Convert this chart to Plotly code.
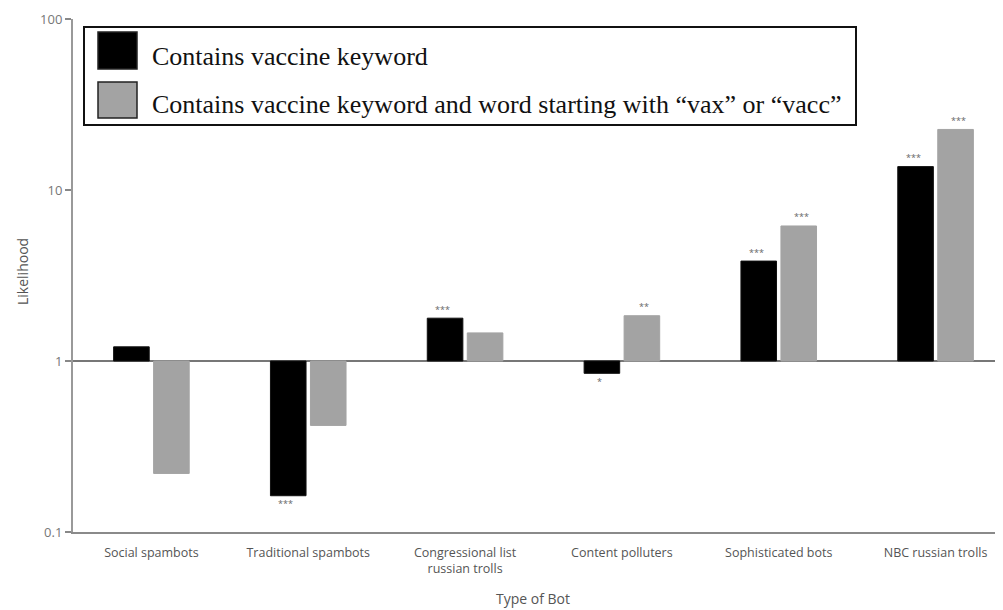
import numpy as np
import plotly.graph_objects as go

categories = ["Social spambots", "Traditional spambots", "Congressional list<br>russian trolls",
              "Content polluters", "Sophisticated bots", "NBC russian trolls"]
series_names = ["Contains vaccine keyword",
                "Contains vaccine keyword and word starting with \u201cvax\u201d or \u201cvacc\u201d"]
vaccine_kw = [1.21, 0.163, 1.78, 0.847, 3.84, 13.7]
vax_vacc = [0.22, 0.42, 1.46, 1.84, 6.16, 22.6]
sig_kw = ["", "***", "***", "*", "***", "***"]
sig_vax = ["", "", "", "**", "***", "***"]
y_tick_vals = [0.1, 1, 10, 100]
y_tick_text = ["0.1", "1", "10", "100"]

# page offset (body margin of the html page)
OX, OY = 8, 8
W, H = 995, 602
L, R, T, B = 65, 0, 11, 78
PW, PH = W - L - R, H - T - B


def px(x):
    return (x - OX - L) / PW


def py(y):
    return (H - B - (y - OY)) / PH


x_idx = list(range(len(categories)))
colors = ["#000000", "#a3a3a3"]
fig = go.Figure()
for vals, name, col in [(vaccine_kw, series_names[0], colors[0]), (vax_vacc, series_names[1], colors[1])]:
    fig.add_trace(go.Bar(
        x=x_idx, y=np.log10(vals), base=0, name=name,
        marker=dict(color=col, line=dict(color="#111" if col == "#000000" else col, width=1)),
        showlegend=False,
    ))

bar_offset = 22.5
for vals, sigs, sgn in [(vaccine_kw, sig_kw, -1), (vax_vacc, sig_vax, 1)]:
    for i, (v, s) in enumerate(zip(vals, sigs)):
        if not s:
            continue
        lv = float(np.log10(v))
        fig.add_annotation(x=i, y=lv, xref="x", yref="y", text=s, showarrow=False,
                           xshift=sgn * bar_offset, yshift=9 if lv > 0 else -8,
                           font=dict(family="Open Sans", size=9, color="#666"))

fig.update_layout(
    width=W, height=H, margin=dict(l=L, r=R, t=T, b=B, pad=0),
    paper_bgcolor="white", plot_bgcolor="white",
    barmode="group", bargap=0.49, bargroupgap=0.11,
    xaxis=dict(range=[-0.5, 5.43], tickmode="array", tickvals=x_idx, ticktext=categories,
               showgrid=False, zeroline=False, showline=True, linecolor="#8a8a8a", linewidth=1.5,
               ticks="outside", ticklen=8, tickcolor="rgba(0,0,0,0)",
               tickfont=dict(family="Open Sans", size=12.5, color="#555")),
    yaxis=dict(range=[-1, 2], tickmode="array", tickvals=np.log10(y_tick_vals), ticktext=y_tick_text,
               showgrid=False, zeroline=True, zerolinecolor="#777", zerolinewidth=1.5,
               showline=True, linecolor="#999", linewidth=2,
               ticks="outside", ticklen=6, tickcolor="#888", tickwidth=1.5,
               tickfont=dict(family="Open Sans", size=13, color="#777")),
    font=dict(family="Open Sans"),
)

# axis titles
fig.add_annotation(x=px(22), y=py(272), xref="paper", yref="paper", text="Likelihood", textangle=-90,
                   xanchor="center", yanchor="middle",
                   showarrow=False, font=dict(family="Open Sans", size=14, color="#555"))
fig.add_annotation(x=px(533), y=py(598), xref="paper", yref="paper", text="Type of Bot",
                   xanchor="center", yanchor="middle",
                   showarrow=False, font=dict(family="Open Sans", size=14, color="#555"))

# custom legend box
fig.add_shape(type="rect", xref="paper", yref="paper", x0=px(84), x1=px(856), y0=py(125), y1=py(27),
              line=dict(color="#111", width=2), fillcolor="white")
for (y0, y1, col, name, ty) in [(32, 69, colors[0], series_names[0], 56), (82, 118, colors[1], series_names[1], 104)]:
    fig.add_shape(type="rect", xref="paper", yref="paper", x0=px(98), x1=px(137), y0=py(y1), y1=py(y0),
                  line=dict(color="#222", width=1.5), fillcolor=col)
    fig.add_annotation(x=px(150), y=py(ty), xref="paper", yref="paper", text=name, showarrow=False,
                       xanchor="left", yanchor="middle",
                       font=dict(family="Liberation Serif", size=26, color="#111"))

fig.write_html("out.html")
